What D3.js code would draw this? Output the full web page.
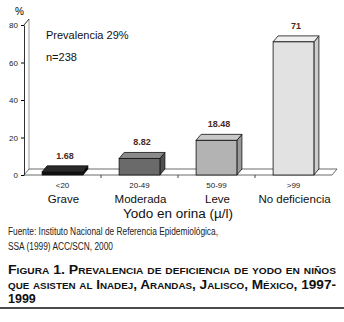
<!DOCTYPE html>
<html>
<head>
<meta charset="utf-8">
<script src="https://cdn.jsdelivr.net/npm/d3@7"></script>
<style>
  body { margin: 0; background: #fff; }
  svg { display: block; font-family: "Liberation Sans", Arial, sans-serif; }
</style>
</head>
<body>
<svg id="chart" width="344" height="322"></svg>
<script>
// data
const ranges = ["<20", "20-49", "50-99", ">99"]
const levels = ["Grave", "Moderada", "Leve", "No deficiencia"]
const values = [1.68, 8.82, 18.48, 71]
const valueLabels = ["1.68", "8.82", "18.48", "71"]
const yTicks = [0, 20, 40, 60, 80]
const fronts = ["#111111", "#6a6a6a", "#b3b3b3", "#e2e2e2"]
const tops = ["#2a2a2a", "#8a8a8a", "#c9c9c9", "#efefef"]
const sides = ["#000000", "#505050", "#9a9a9a", "#cdcdcd"]

const svg = d3.select("#chart")
const dx = 5, dy = 6

const x = d3.scaleBand().domain(ranges).range([24, 332])
    .paddingInner(0.47).paddingOuter(0.235)
const y = d3.scaleLinear().domain([0, 80]).range([175, 25])

// back wall + floor
svg.append("line").attr("x1", 24 + dx).attr("x2", 24 + dx)
    .attr("y1", y(80) - dy).attr("y2", y(0) - dy).attr("stroke", "#999")
svg.append("line").attr("x1", 24).attr("x2", 24 + dx)
    .attr("y1", y(80)).attr("y2", y(80) - dy).attr("stroke", "#333")
svg.append("polygon")
    .attr("points", [[24, y(0)], [332, y(0)], [332 + dx, y(0) - dy], [24 + dx, y(0) - dy]].join(" "))
    .attr("fill", "#fff").attr("stroke", "#444").attr("stroke-width", 0.8)

// y axis
const yAxis = d3.axisLeft(y).tickValues(yTicks).tickSize(3).tickSizeOuter(0)
const gy = svg.append("g").attr("transform", "translate(24,0)").call(yAxis)
gy.select(".domain").attr("stroke", "#333")
gy.selectAll("text").attr("font-size", 8).attr("fill", "#222")
svg.append("text").attr("x", 15).attr("y", 15).attr("font-size", 10).text("%")

// category tick marks between bands
const bandEdges = ranges.map(r => x(r) + x.bandwidth() + x.step() * x.paddingInner() / 2)
svg.selectAll(".ctick").data(bandEdges.slice(0, 3)).join("line")
    .attr("x1", d => d).attr("x2", d => d)
    .attr("y1", y(0)).attr("y2", y(0) + 3).attr("stroke", "#444")

// bars
const bars = svg.selectAll(".bar").data(values).join("g").attr("class", "bar")
bars.append("polygon")
    .attr("points", (d, i) => {
        const x0 = x(ranges[i]), x1 = x0 + x.bandwidth(), yt = y(d), yb = y(0)
        return [[x1, yt], [x1 + dx, yt - dy], [x1 + dx, yb - dy], [x1, yb]].join(" ")
    })
    .attr("fill", (d, i) => sides[i]).attr("stroke", "#111").attr("stroke-width", 0.8)
bars.append("polygon")
    .attr("points", (d, i) => {
        const x0 = x(ranges[i]), x1 = x0 + x.bandwidth(), yt = y(d)
        return [[x0, yt], [x0 + dx, yt - dy], [x1 + dx, yt - dy], [x1, yt]].join(" ")
    })
    .attr("fill", (d, i) => tops[i]).attr("stroke", "#111").attr("stroke-width", 0.8)
bars.append("rect")
    .attr("x", (d, i) => x(ranges[i]))
    .attr("y", d => y(d))
    .attr("width", x.bandwidth())
    .attr("height", d => y(0) - y(d))
    .attr("fill", (d, i) => fronts[i]).attr("stroke", "#111").attr("stroke-width", 0.8)
bars.append("text")
    .attr("x", (d, i) => x(ranges[i]) + x.bandwidth() / 2 + dx / 2)
    .attr("y", d => y(d) - dy - 7)
    .attr("text-anchor", "middle").attr("font-size", 9).attr("font-weight", "bold")
    .attr("fill", "#4a2a1e")
    .text((d, i) => valueLabels[i])

// category labels
svg.selectAll(".rng").data(ranges).join("text")
    .attr("x", d => x(d) + x.bandwidth() / 2)
    .attr("y", 188).attr("text-anchor", "middle").attr("font-size", 8).attr("fill", "#222")
    .text(d => d)
svg.selectAll(".lvl").data(levels).join("text")
    .attr("x", (d, i) => x(ranges[i]) + x.bandwidth() / 2 + 1)
    .attr("y", 203).attr("text-anchor", "middle").attr("font-size", 11.5).attr("fill", "#111")
    .text(d => d)
svg.append("text").attr("x", 178).attr("y", 218).attr("text-anchor", "middle")
    .attr("font-size", 12.5).attr("fill", "#111")
    .attr("textLength", 110).attr("lengthAdjust", "spacingAndGlyphs")
    .text("Yodo en orina (\u00b5/l)")

// annotations
svg.append("text").attr("x", 46).attr("y", 39).attr("font-size", 11).attr("fill", "#111").text("Prevalencia 29%")
svg.append("text").attr("x", 46).attr("y", 61).attr("font-size", 11).attr("fill", "#111").text("n=238")

// source
svg.append("text").attr("x", 8).attr("y", 235).attr("font-size", 10).attr("fill", "#222")
    .attr("textLength", 210).attr("lengthAdjust", "spacingAndGlyphs")
    .text("Fuente: Instituto Nacional de Referencia Epidemiológica,")
svg.append("text").attr("x", 8).attr("y", 250).attr("font-size", 10).attr("fill", "#222")
    .attr("textLength", 105).attr("lengthAdjust", "spacingAndGlyphs")
    .text("SSA (1999) ACC/SCN, 2000")

// caption
const caption = ["Figura 1. Prevalencia de deficiencia de yodo en niños",
                 "que asisten al Inadej, Arandas, Jalisco, México, 1997-",
                 "1999"]
svg.selectAll(".cap").data(caption).join("text")
    .attr("x", 8).attr("y", (d, i) => [274, 288.5, 303][i])
    .attr("font-size", 12.5).attr("font-weight", "bold").attr("font-variant", "small-caps")
    .attr("fill", "#111")
    .attr("textLength", (d, i) => i < 2 ? 328 : null)
    .attr("lengthAdjust", "spacingAndGlyphs")
    .text(d => d)
svg.append("line").attr("x1", 0).attr("x2", 344).attr("y1", 308).attr("y2", 308)
    .attr("stroke", "#111").attr("stroke-width", 1.5)
</script>
</body>
</html>
